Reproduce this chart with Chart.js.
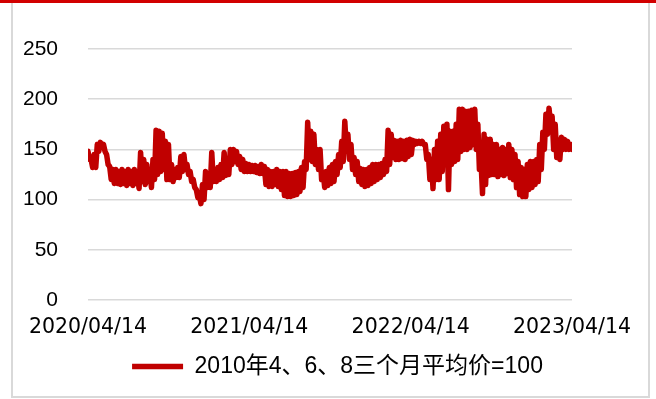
<!DOCTYPE html>
<html>
<head>
<meta charset="utf-8">
<script src="https://cdn.jsdelivr.net/npm/chart.js@4.4.0/dist/chart.umd.min.js"></script>
<style>
  html, body { margin: 0; padding: 0; background: #fff; }
  #topbar { position: absolute; left: 0; top: 0; width: 656px; height: 3px; background: #d20000; }
  #frame { position: absolute; left: 11px; top: 3px; width: 635px; height: 393px; border: 2px solid #d9d9d9; border-top: none; }
  #box { position: absolute; left: 0; top: 0; width: 656px; height: 399px; }
</style>
</head>
<body>
<div id="topbar"></div>
<div id="frame"></div>
<div id="box"><canvas id="chart"></canvas></div>
<script>
const seriesName = '2010年4、6、8三个月平均价=100';
const tickDays = [0, 365, 730, 1095];
const tickLabels = ['2020/04/14', '2021/04/14', '2022/04/14', '2023/04/14'];
const yTicks = [0, 50, 100, 150, 200, 250];

// weekly high / low of the index, week 0 starts 2020/04/14
const weekHigh = [
  148, 140, 145, 155, 157, 155, 145, 133, 130, 130,
  128, 130, 128, 130, 128, 130, 125, 147, 140, 135,
  128, 140, 169, 168, 166, 158, 155, 135, 130, 132,
  143, 145, 135, 128, 120, 110, 104, 115, 128, 125,
  147, 130, 132, 135, 147, 140, 150, 150, 148, 143,
  140, 136, 135, 134, 134, 133, 135, 133, 130, 128,
  128, 130, 128, 128, 128, 126, 126, 127, 128, 132,
  138, 177, 168, 165, 150, 150, 127, 128, 132, 135,
  138, 145, 158, 178, 165, 155, 142, 138, 131, 130,
  130, 132, 135, 135, 135, 136, 140, 169, 165, 159,
  158, 159, 158, 159, 160, 159, 158, 158, 158, 155,
  145, 140, 150, 158, 165, 173, 175, 168, 168, 175,
  190, 190, 188, 188, 189, 190, 175, 140, 165, 160,
  160, 155, 155, 150, 152, 150, 155, 150, 145, 138,
  132, 130, 135, 138, 138, 140, 155, 167, 185, 191,
  183, 175, 155, 162, 160, 158, 155
];
const weekLow = [
  140, 132, 132, 148, 153, 148, 135, 120, 116, 116,
  115, 116, 114, 116, 114, 116, 111, 118, 115, 118,
  112, 120, 125, 128, 130, 120, 120, 118, 122, 122,
  128, 130, 125, 118, 112, 102, 96, 100, 112, 112,
  118, 118, 120, 122, 124, 125, 135, 138, 135, 130,
  128, 128, 128, 128, 127, 126, 126, 115, 113, 113,
  115, 113, 110, 104, 103, 103, 104, 105, 108, 112,
  130, 140, 138, 135, 130, 120, 112, 114, 116, 118,
  125, 132, 138, 150, 140, 130, 125, 118, 115, 113,
  114, 116, 118, 120, 122, 125, 128, 135, 142, 140,
  140, 141, 140, 143, 145, 155, 156, 156, 155, 140,
  120, 111, 120, 120, 128, 135, 110, 135, 138, 140,
  148, 150, 150, 152, 155, 150, 130, 106, 115, 124,
  125, 125, 123, 125, 124, 126, 122, 120, 112, 105,
  103, 103, 110, 112, 115, 118, 130, 150, 165, 175,
  150, 142, 140, 150, 150, 150, 150
];

// each week: high at the start, low half a week later
const points = [];
weekHigh.forEach((h, i) => {
  points.push({ x: i * 7, y: h });
  points.push({ x: i * 7 + 3.5, y: weekLow[i] });
});

const config = {
  type: 'line',
  data: {
    datasets: [{
      label: seriesName,
      data: points,
      borderColor: '#c00000',
      backgroundColor: '#c00000',
      borderWidth: 5.5,
      borderJoinStyle: 'round',
      borderCapStyle: 'round',
      pointRadius: 0,
      tension: 0
    }]
  },
  options: {
    responsive: true,
    maintainAspectRatio: false,
    animation: false,
    layout: { padding: { left: 19, right: 0, top: 49, bottom: 11 } },
    scales: {
      x: {
        type: 'linear',
        min: 0,
        max: 1095,
        grid: { display: false, drawTicks: false },
        border: { display: false },
        afterBuildTicks: (scale) => {
          scale.ticks = tickDays.map(v => ({ value: v }));
        },
        afterFit: (scale) => { scale.height = 45; },
        ticks: {
          autoSkip: false,
          maxRotation: 0,
          padding: 15.5,
          color: '#000',
          font: { family: 'DejaVu Sans', size: 20.5 },
          callback: (v) => tickLabels[tickDays.indexOf(v)]
        }
      },
      y: {
        min: 0,
        max: 250,
        afterBuildTicks: (scale) => {
          scale.ticks = yTicks.map(v => ({ value: v }));
        },
        afterFit: (scale) => { scale.width = 69; },
        grid: { color: '#d9d9d9', lineWidth: 1.5, drawTicks: false },
        border: { display: false },
        ticks: {
          padding: 30,
          color: '#000',
          font: { family: 'Liberation Sans', size: 21 }
        }
      },
      // empty right-hand gutter
      yr: {
        position: 'right',
        grid: { display: false, drawTicks: false },
        border: { display: false },
        ticks: { display: false },
        afterFit: (scale) => { scale.width = 84; }
      }
    },
    plugins: {
      tooltip: { enabled: false },
      legend: {
        position: 'bottom',
        align: 'center',
        labels: {
          usePointStyle: true,
          pointStyle: 'line',
          pointStyleWidth: 51,
          color: '#000',
          padding: 10,
          font: { family: "'Liberation Sans', 'Noto Sans CJK SC'", size: 23 }
        }
      }
    }
  }
};

const myChart = new Chart(document.getElementById('chart'), config);
</script>
</body>
</html>
